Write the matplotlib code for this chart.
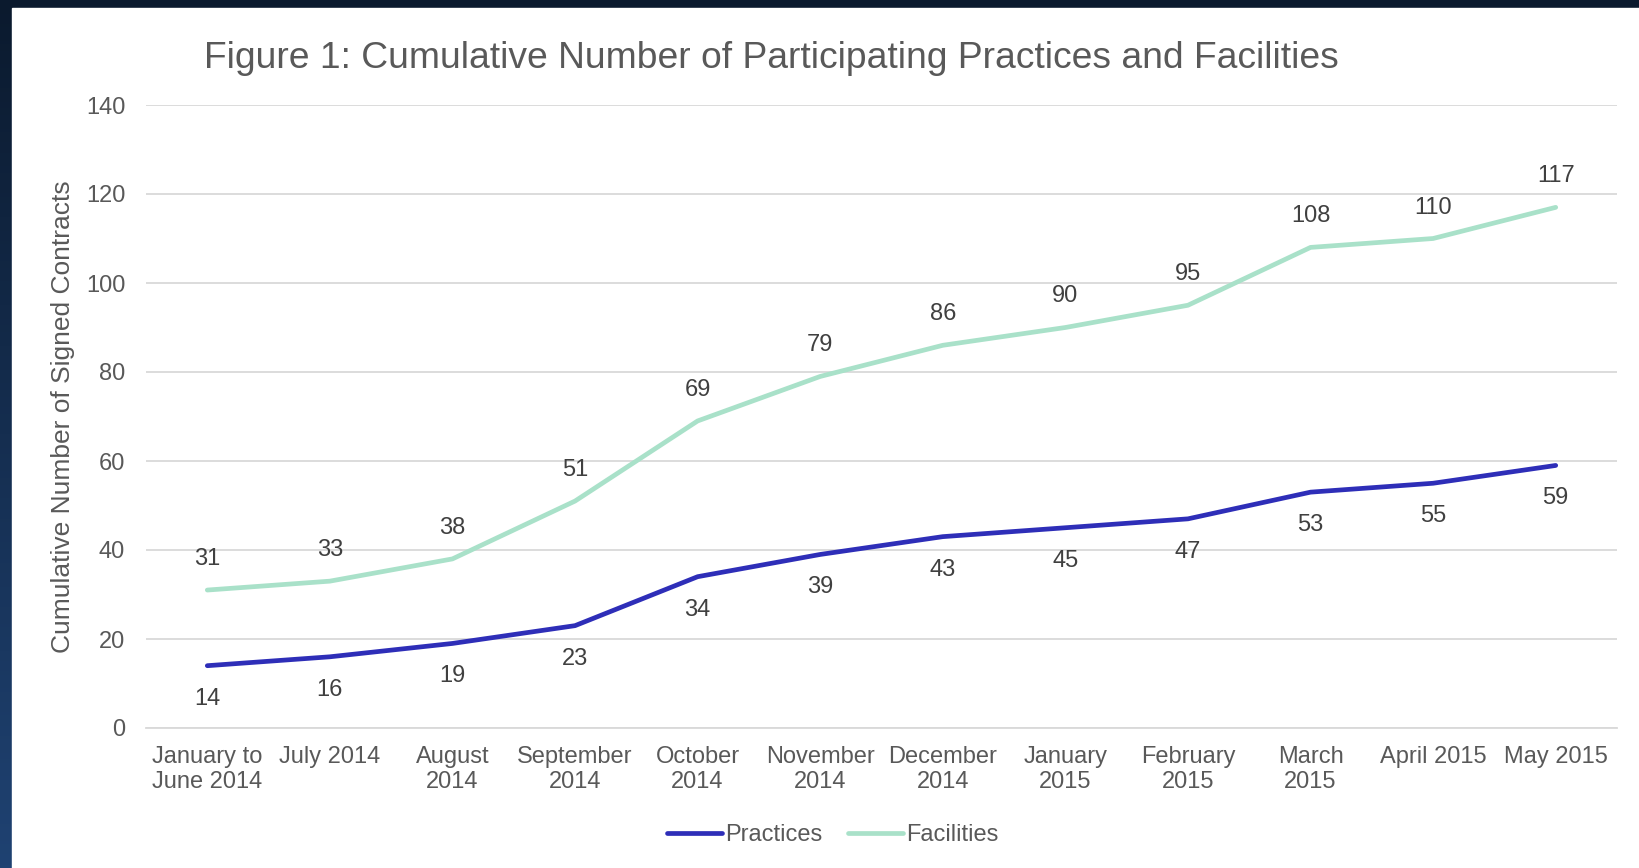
import matplotlib.pyplot as plt
import numpy as np

months = ["January to\nJune 2014", "July 2014", "August\n2014", "September\n2014",
          "October\n2014", "November\n2014", "December\n2014", "January\n2015",
          "February\n2015", "March\n2015", "April 2015", "May 2015"]
practices = [14, 16, 19, 23, 34, 39, 43, 45, 47, 53, 55, 59]
facilities = [31, 33, 38, 51, 69, 79, 86, 90, 95, 108, 110, 117]

plt.rcParams['font.family'] = ['Liberation Sans', 'DejaVu Sans']
grey = '#595959'

fig = plt.figure(figsize=(16.4, 8.68), dpi=100)

# dark gradient background with white panel on top
bg = fig.add_axes([0, 0, 1, 1])
grad = np.linspace(0, 1, 256).reshape(-1, 1)
bg.imshow(grad, aspect='auto', extent=[0, 1, 0, 1], origin='upper',
          cmap=plt.matplotlib.colors.LinearSegmentedColormap.from_list('bg', ['#0b1a2e', '#1f4272']))
bg.add_patch(plt.Rectangle((12 / 1640, 0), 1, 1 - 8 / 868, color='white', zorder=2))
bg.set_xlim(0, 1)
bg.set_ylim(0, 1)
bg.axis('off')

ax = fig.add_axes([146 / 1640, 1 - 728 / 868, (1617 - 146) / 1640, (728 - 105) / 868])
ax.set_facecolor('none')
x = np.arange(len(months))
ax.plot(x, practices, color='#2e2eb8', lw=3.4, solid_capstyle='round', label='Practices', zorder=3)
ax.plot(x, facilities, color='#a9e1c9', lw=3.4, solid_capstyle='round', label='Facilities', zorder=3)

for i in x:
    ax.annotate(str(practices[i]), (i, practices[i]), xytext=(0, -33), textcoords='offset pixels',
                ha='center', va='center', fontsize=17, color='#404040')
    ax.annotate(str(facilities[i]), (i, facilities[i]), xytext=(0, 31), textcoords='offset pixels',
                ha='center', va='center', fontsize=17, color='#404040')

ax.set_xlim(-0.5, len(months) - 0.5)
ax.set_ylim(0, 140)
ax.set_yticks(range(0, 141, 20))
ax.set_xticks(x)
ax.set_xticklabels(months, fontsize=17, color=grey, linespacing=1.15)
ax.tick_params(axis='y', labelsize=17, labelcolor=grey, length=0, pad=15)
ax.tick_params(axis='x', length=0, pad=13)
ax.grid(axis='y', color='#d9d9d9', lw=1.3)
for s in ['top', 'right', 'left']:
    ax.spines[s].set_visible(False)
ax.spines['bottom'].set_color('#d9d9d9')
ax.spines['bottom'].set_linewidth(1.3)
ax.set_ylabel('Cumulative Number of Signed Contracts', fontsize=19, color=grey, labelpad=8)

fig.text(771 / 1640, 1 - 59 / 868, 'Figure 1: Cumulative Number of Participating Practices and Facilities',
         ha='center', va='center', fontsize=26.8, color=grey)

fig.legend(loc='center', bbox_to_anchor=(833 / 1640, 1 - 835 / 868), ncol=2, frameon=False,
           fontsize=17, labelcolor=grey, handlelength=2.3, handletextpad=0.15, columnspacing=1.1)

fig.savefig('out.png', dpi=100)
